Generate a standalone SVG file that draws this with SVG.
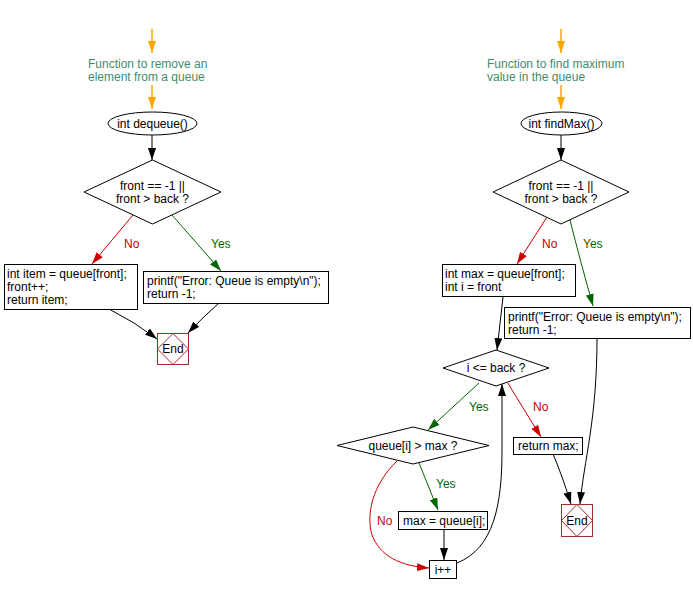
<svg xmlns="http://www.w3.org/2000/svg" width="693" height="593" viewBox="0 0 693 593">
<style>
text{font-family:"Liberation Sans",Arial,sans-serif;font-size:12px;fill:#000}
.c{text-anchor:middle}
.cm{fill:#3f8c6f}
.shape{fill:#fff;stroke:#000;stroke-width:1}
.end{fill:#fff;stroke:#a52a2a;stroke-width:1}
.e{fill:none;stroke:#000;stroke-width:1}
.o{fill:none;stroke:#ffa500;stroke-width:1.5}
.r{fill:none;stroke:#cc0000;stroke-width:1}
.g{fill:none;stroke:#006600;stroke-width:1}
.lr{fill:#cc0000}
.lg{fill:#006600}
</style>
<defs>
<marker id="mk" markerWidth="12" markerHeight="8" refX="12" refY="4" orient="auto" markerUnits="userSpaceOnUse"><path d="M0,0 L12,4 L0,8 z" fill="#000"/></marker>
<marker id="mr" markerWidth="12" markerHeight="8" refX="12" refY="4" orient="auto" markerUnits="userSpaceOnUse"><path d="M0,0 L12,4 L0,8 z" fill="#cc0000"/></marker>
<marker id="mg" markerWidth="12" markerHeight="8" refX="12" refY="4" orient="auto" markerUnits="userSpaceOnUse"><path d="M0,0 L12,4 L0,8 z" fill="#006600"/></marker>
<marker id="mo" markerWidth="12" markerHeight="8" refX="12" refY="4" orient="auto" markerUnits="userSpaceOnUse"><path d="M0,0 L12,4 L0,8 z" fill="#ffa500"/></marker>
</defs>
<rect width="693" height="593" fill="#fff"/>

<g id="connectors">
<path class="o" d="M152,29 L152,53" marker-end="url(#mo)"/>
<path class="o" d="M152,85 L152,109" marker-end="url(#mo)"/>
<path class="e" d="M152,135 L152,160" marker-end="url(#mk)"/>
<path class="r" d="M133,215 L92,264" marker-end="url(#mr)"/>
<path class="g" d="M172,215 L221,271" marker-end="url(#mg)"/>
<path class="e" d="M109,309 Q135,322 157,339" marker-end="url(#mk)"/>
<path class="e" d="M219,303 Q204,316 188,333" marker-end="url(#mk)"/>

<path class="o" d="M561,29 L561,53" marker-end="url(#mo)"/>
<path class="o" d="M561,85 L561,109" marker-end="url(#mo)"/>
<path class="e" d="M561,135 L561,160" marker-end="url(#mk)"/>
<path class="r" d="M547,217 L517,264" marker-end="url(#mr)"/>
<path class="g" d="M570,220 Q580,260 593,306" marker-end="url(#mg)"/>
<path class="e" d="M503,297 L497,350" marker-end="url(#mk)"/>
<path class="e" d="M597,338 C597,420 584,460 580,504" marker-end="url(#mk)"/>
<path class="r" d="M508,383 L512,390 L541,437" marker-end="url(#mr)"/>
<path class="g" d="M479,383 L428,430" marker-end="url(#mg)"/>
<path class="g" d="M419,463 L438,510" marker-end="url(#mg)"/>
<path class="r" d="M397,461 C372,485 366,515 372,535 C380,556 400,566 429,568" marker-end="url(#mr)"/>
<path class="e" d="M444,529 L444,560" marker-end="url(#mk)"/>
<path class="e" d="M553,454 Q562,475 571,504" marker-end="url(#mk)"/>
<path class="e" d="M457,563 C494,548 502,505 502,450 L502,384" marker-end="url(#mk)"/>

<text class="lr" x="124" y="248">No</text>
<text class="lg" x="211" y="248">Yes</text>
<text class="lr" x="542" y="248">No</text>
<text class="lg" x="583" y="248">Yes</text>
<text class="lg" x="469" y="411">Yes</text>
<text class="lr" x="533" y="411">No</text>
<text class="lg" x="436" y="488">Yes</text>
<text class="lr" x="377" y="525">No</text>
</g>

<g id="comment1">
<text class="cm" x="88" y="68">Function to remove an</text>
<text class="cm" x="88" y="81">element from a queue</text>
</g>
<g id="start1">
<ellipse class="shape" cx="152.5" cy="123.5" rx="44.5" ry="11.5"/>
<text class="c" x="152.5" y="128">int dequeue()</text>
</g>
<g id="cond1">
<polygon class="shape" points="152.5,160 221,192 152.5,224 84,192"/>
<text class="c" x="152.5" y="190">front == -1 ||</text>
<text class="c" x="152.5" y="203">front &gt; back ?</text>
</g>
<g id="box1">
<rect class="shape" x="4.5" y="264.5" width="133" height="45"/>
<text x="7" y="278">int item = queue[front];</text>
<text x="7" y="291">front++;</text>
<text x="7" y="304">return item;</text>
</g>
<g id="box2">
<rect class="shape" x="143.5" y="271.5" width="185" height="32"/>
<text x="147" y="285">printf("Error: Queue is empty\n");</text>
<text x="147" y="298">return -1;</text>
</g>
<g id="end1">
<rect class="end" x="157.5" y="333.5" width="31" height="31"/>
<polygon class="end" points="173,333.5 188.5,349 173,364.5 157.5,349"/>
<text class="c" x="173" y="353">End</text>
</g>

<g id="comment2">
<text class="cm" x="487" y="68">Function to find maximum</text>
<text class="cm" x="487" y="81">value in the queue</text>
</g>
<g id="start2">
<ellipse class="shape" cx="561.5" cy="123.5" rx="40.5" ry="11.5"/>
<text class="c" x="561.5" y="128">int findMax()</text>
</g>
<g id="cond2">
<polygon class="shape" points="561,160 629,192 561,224 493,192"/>
<text class="c" x="561" y="190">front == -1 ||</text>
<text class="c" x="561" y="203">front &gt; back ?</text>
</g>
<g id="box3">
<rect class="shape" x="442.5" y="264.5" width="133" height="32"/>
<text x="445" y="278">int max = queue[front];</text>
<text x="445" y="291">int i = front</text>
</g>
<g id="box4">
<rect class="shape" x="504.5" y="307.5" width="186" height="31"/>
<text x="508" y="321">printf("Error: Queue is empty\n");</text>
<text x="508" y="334">return -1;</text>
</g>
<g id="cond3">
<polygon class="shape" points="496,350 549,368 496,386 443,368"/>
<text class="c" x="496" y="372">i &lt;= back ?</text>
</g>
<g id="cond4">
<polygon class="shape" points="413,427 489,445.5 413,464 337,445.5"/>
<text class="c" x="413" y="449.5">queue[i] &gt; max ?</text>
</g>
<g id="box5">
<rect class="shape" x="398.5" y="511.5" width="89" height="18"/>
<text x="403" y="525">max = queue[i];</text>
</g>
<g id="box6">
<rect class="shape" x="429.5" y="560.5" width="27" height="18"/>
<text class="c" x="443" y="574">i++</text>
</g>
<g id="box7">
<rect class="shape" x="513.5" y="437.5" width="69" height="17"/>
<text x="518" y="450">return max;</text>
</g>
<g id="end2">
<rect class="end" x="561.5" y="504.5" width="31" height="32"/>
<polygon class="end" points="577,504.5 592.5,520.5 577,536.5 561.5,520.5"/>
<text class="c" x="577" y="525">End</text>
</g>
</svg>
